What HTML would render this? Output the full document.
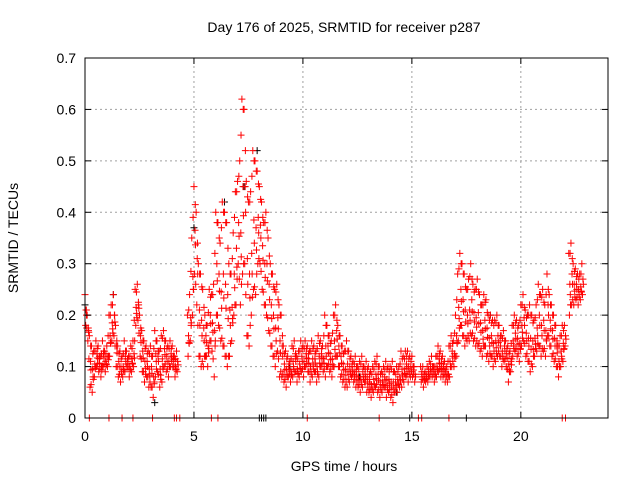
<!DOCTYPE html>
<html><head><meta charset="utf-8"><style>
html,body{margin:0;padding:0;background:#fff;}
svg{display:block;font-family:"Liberation Sans",sans-serif;}
</style></head><body>
<svg id="chart" width="640" height="480">
<rect x="0" y="0" width="640" height="480" fill="#fff"/>
<text x="344" y="32" font-size="14" text-anchor="middle">Day 176 of 2025, SRMTID for receiver p287</text>
<text x="344" y="471" font-size="14" text-anchor="middle">GPS time / hours</text>
<text x="18" y="238" font-size="14" text-anchor="middle" transform="rotate(-90 18 238)">SRMTID / TECUs</text>
<g id="grid"></g>
<g id="marks"></g>
<rect x="85" y="58" width="523" height="360" fill="none" stroke="#000" stroke-width="1"/>
<g id="ticks"></g>
</svg>
<script>
const xTicks = [0, 5, 10, 15, 20];
const yTicks = [0, 0.1, 0.2, 0.3, 0.4, 0.5, 0.6, 0.7];
const yTickLabels = ["0", "0.1", "0.2", "0.3", "0.4", "0.5", "0.6", "0.7"];
const tStart = 0;
const tStep = 0.1;
const hiVals = [
.24,.2,.16,.14,.13,.15,.14,.12,.15,.13,
.14,.2,.22,.24,.18,.14,.13,.12,.15,.13,
.12,.14,.15,.25,.26,.2,.17,.15,.14,.13,
.14,.12,.17,.15,.13,.16,.17,.15,.14,.15,
.14,.12,.13,null,null,null,null,.2,.24,.35,
.45,.4,.3,.28,.25,.2,.18,.25,.24,.26,
.4,.38,.34,.42,.4,.38,.3,.28,.36,.44,
.46,.5,.62,.6,.46,.42,.44,.52,.5,.48,
.45,.42,.38,.4,.35,.3,.28,.25,.26,.22,
.2,.14,.13,.12,.11,.14,.15,.12,.13,.15,
.14,.15,.14,.13,.15,.14,.13,.16,.15,.14,
.2,.18,.16,.15,.2,.22,.18,.16,.14,.13,
.15,.13,.12,.11,.12,.1,.11,.12,.1,.11,
.1,.09,.1,.11,.12,.1,.09,.1,.11,.1,
.1,.11,.09,.1,.1,.13,.12,.13,.13,.12,
.12,.1,null,null,.1,.1,.09,.1,.11,.12,
.1,.12,.14,.13,.12,.11,.1,.14,.16,.15,
.2,.28,.32,.3,.28,.25,.27,.3,.26,.25,
.27,.24,.22,.24,.23,.2,.2,.19,.19,.2,
.18,.16,.17,.15,.14,.13,.18,.2,.19,.18,
.22,.24,.21,.2,.22,.2,.19,.22,.26,.24,
.25,.22,.28,.24,.22,.2,.18,.14,.16,.18,
.18,null,.32,.34,.3,.29,.28,.28,.3];
const loVals = [
.18,.15,.06,.05,.08,.1,.09,.08,.1,.09,
.1,.12,.15,.16,.1,.08,.07,.08,.09,.1,
.08,.09,.1,.18,.19,.12,.09,.07,.08,.06,
.06,.04,.08,.09,.06,.07,.1,.09,.08,.1,
.1,.08,.09,null,null,null,null,.12,.15,.2,
.28,.22,.12,.1,.1,.12,.1,.15,.13,.08,
.2,.18,.15,.14,.12,.1,.12,.15,.2,.22,
.3,.22,.28,.3,.16,.14,.2,.25,.24,.3,
.3,.25,.22,.2,.17,.14,.12,.1,.13,.08,
.08,.07,.06,.08,.07,.08,.09,.07,.08,.09,
.08,.1,.09,.07,.08,.09,.07,.08,.1,.09,
.08,.1,.09,.08,.1,.12,.1,.08,.07,.06,
.06,.07,.08,.07,.06,.06,.05,.06,.07,.05,
.05,.04,.05,.06,.05,.04,.05,.06,.04,.05,
.04,.03,.05,.05,.06,.06,.07,.08,.07,.08,
.08,.07,null,null,.07,.06,.07,.07,.08,.08,
.07,.08,.09,.08,.08,.07,.07,.08,.1,.1,
.12,.15,.18,.16,.14,.15,.15,.16,.15,.14,
.14,.13,.12,.14,.12,.11,.12,.1,.11,.12,
.12,.1,.11,.1,.07,.09,.12,.13,.12,.11,
.14,.15,.12,.11,.09,.1,.12,.13,.14,.12,
.13,.12,.16,.14,.12,.11,.1,.08,.1,.11,
.14,null,.2,.22,.22,.23,.22,.23,.24];
const blackTimes = [0.0, 1.3, 3.2, 5.0, 6.4, 7.3, 7.9, 9.4, 12.6, 14.3, 18.6, 20.3, 22.6];
const blackVals = [0.22, 0.24, 0.03, 0.37, 0.42, 0.45, 0.52, 0.1, 0.08, 0.05, 0.2, 0.2, 0.28];
const zeroRedTimes = [0.2, 1.1, 1.7, 2.2, 3.1, 4.1, 4.2, 4.35, 5.8, 6.1, 10.2, 13.5, 15.3, 15.45, 16.7, 21.9, 22.05];
const zeroBlackTimes = [8.0, 8.1, 8.2, 8.3, 14.9, 17.5];

const X0 = 85, X1 = 608, Y0 = 418, Y1 = 58;
const xMax = 24, yMax = 0.7;
function sx(t){ return X0 + (t / xMax) * (X1 - X0); }
function sy(v){ return Y0 - (v / yMax) * (Y0 - Y1); }
const NS = "http://www.w3.org/2000/svg";
const grid = document.getElementById('grid');
const ticks = document.getElementById('ticks');
const marks = document.getElementById('marks');

function line(parent, x1, y1, x2, y2, stroke, dash, name){
  const l = document.createElementNS(NS, 'line');
  l.setAttribute('x1', x1); l.setAttribute('y1', y1);
  l.setAttribute('x2', x2); l.setAttribute('y2', y2);
  l.setAttribute('stroke', stroke); l.setAttribute('stroke-width', 1);
  if (dash) l.setAttribute('stroke-dasharray', dash);
  
  
  parent.appendChild(l);
}
function text(parent, x, y, s, anchor, name){
  const t = document.createElementNS(NS, 'text');
  t.setAttribute('x', x); t.setAttribute('y', y);
  t.setAttribute('font-size', 14);
  t.setAttribute('text-anchor', anchor);
  t.textContent = s;
  
  
  parent.appendChild(t);
}
yTicks.forEach((v, i) => {
  const y = sy(v);
  if (i > 0 && i < yTicks.length - 1) line(grid, X0, y, X1, y, '#a0a0a0', '2,3', 'y-gridline');
  line(ticks, X0, y, X0 + 6, y, '#000', null, 'y-tick');
  line(ticks, X1, y, X1 - 6, y, '#000', null, 'y-tick');
  text(ticks, X0 - 9, y + 5, yTickLabels[i], 'end', 'y-tick-label');
});
xTicks.forEach((v, i) => {
  const x = sx(v);
  if (i > 0) line(grid, x, Y0, x, Y1, '#a0a0a0', '2,3', 'x-gridline');
  line(ticks, x, Y0, x, Y0 - 6, '#000', null, 'x-tick');
  line(ticks, x, Y1, x, Y1 + 6, '#000', null, 'x-tick');
  text(ticks, x, Y0 + 23, String(v), 'middle', 'x-tick-label');
});
function plus(t, v, color){
  const x = sx(t), y = sy(v);
  const p = document.createElementNS(NS, 'path');
  p.setAttribute('d', `M${x-3.5} ${y}H${x+3.5}M${x} ${y-3.5}V${y+3.5}`);
  p.setAttribute('stroke', color);
  p.setAttribute('stroke-width', 1);
  
  
  marks.appendChild(p);
}
blackTimes.forEach((t, i) => plus(t, blackVals[i], '#000'));
zeroBlackTimes.forEach(t => plus(t, 0, '#000'));
hiVals.forEach((h, i) => {
  const lo = loVals[i];
  if (h === null || lo === null) return;
  const t = tStart + i * tStep;
  plus(t, h, '#ff0000');
  plus(t + 0.03, lo, '#ff0000');
  plus(t + 0.05, (h + lo) / 2, '#ff0000');
  plus(t + 0.07, (2 * lo + h) / 3, '#ff0000');
  const nh = hiVals[i + 1], nl = loVals[i + 1];
  if (nh !== null && nh !== undefined) plus(t + 0.06, (h + nh) / 2 - 0.01, '#ff0000');
  if (nl !== null && nl !== undefined) plus(t + 0.08, (lo + nl) / 2 + 0.01, '#ff0000');
});
zeroRedTimes.forEach(t => plus(t, 0, '#ff0000'));
</script>
</body></html>
